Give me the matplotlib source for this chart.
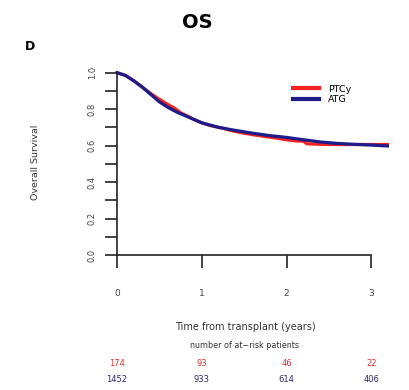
import matplotlib.pyplot as plt
import matplotlib.transforms as mtransforms

# Kaplan-Meier estimates, overall survival by GVHD prophylaxis
ptcy_time = [0, 0.1, 0.2, 0.3, 0.4, 0.48, 0.55, 0.62, 0.68, 0.75,
             0.82, 0.9, 1.0, 1.1, 1.25, 1.35, 1.5, 1.6, 1.75, 1.9, 2.0, 2.1,
             2.2, 2.24, 2.4, 2.6, 2.9, 3.1, 3.19]
ptcy_surv = [1.0, 0.985, 0.955, 0.92, 0.885, 0.86, 0.84, 0.82, 0.805, 0.78,
             0.765, 0.745, 0.725, 0.71, 0.695, 0.682, 0.668, 0.66, 0.65, 0.64, 0.632, 0.626,
             0.624, 0.61, 0.607, 0.606, 0.606, 0.606, 0.606]

atg_time = [0, 0.1, 0.2, 0.3, 0.4, 0.5, 0.6, 0.7, 0.8, 0.9, 1.0, 1.2, 1.4, 1.6,
            1.8, 2.0, 2.2, 2.4, 2.6, 2.8, 3.0, 3.19]
atg_surv = [1.0, 0.985, 0.955, 0.92, 0.88, 0.84, 0.81, 0.785, 0.765, 0.745, 0.725, 0.70,
            0.683, 0.668, 0.655, 0.645, 0.632, 0.62, 0.612, 0.607, 0.603, 0.598]

risk_times = [0, 1, 2, 3]
risk_ptcy = [174, 93, 46, 22]
risk_atg = [1452, 933, 614, 406]

RED = '#f52020'
NAVY = '#1c1c8a'

fig = plt.figure(figsize=(4.1, 3.9), dpi=100)
ax = fig.add_axes([0.2854, 0.3462, 0.6656, 0.4674])

ax.plot(ptcy_time, ptcy_surv, color=RED, lw=2.3, clip_on=False, label='PTCy')
ax.plot(atg_time, atg_surv, color=NAVY, lw=2.3, clip_on=False, label='ATG')

ax.set_xlim(0, 3.22)
ax.set_ylim(0, 1.0)

# R-like axes: only left and bottom, ticks pointing out
for s in ['top', 'right']:
    ax.spines[s].set_visible(False)
ax.spines['bottom'].set_bounds(0, 3)
ax.spines['left'].set_bounds(0, 1)
for s in ['left', 'bottom']:
    ax.spines[s].set_linewidth(1.2)
    ax.spines[s].set_color('#222222')

ax.set_xticks(risk_times)
ax.set_xticklabels([str(t) for t in risk_times])
yt = [i / 10 for i in range(11)]
ax.set_yticks(yt)
ax.set_yticklabels(['%.1f' % v if i % 2 == 0 else '' for i, v in enumerate(yt)],
                   rotation=90, va='center')
ax.tick_params(axis='x', direction='out', length=9.4, width=1.2, pad=15,
               labelsize=6.5, colors='#222222', labelcolor='#444444')
ax.tick_params(axis='y', direction='out', length=8.6, width=1.2, pad=6,
               labelsize=6, colors='#222222', labelcolor='#444444')

leg = ax.legend(loc='upper left', bbox_to_anchor=(288 / 410, 1 - 80 / 390),
                bbox_transform=fig.transFigure, frameon=False, fontsize=6.8,
                handlelength=2.8, handletextpad=0.9, labelspacing=0.15,
                borderpad=0)
for line in leg.get_lines():
    line.set_linewidth(3)

fig.text(197 / 410, 1 - 23 / 390, 'OS', ha='center', va='center',
         fontsize=14, fontweight='bold')
fig.text(30 / 410, 1 - 47 / 390, 'D', ha='center', va='center',
         fontsize=9, fontweight='bold')
fig.text(35 / 410, 1 - 162 / 390, 'Overall Survival', ha='center', va='center',
         rotation=90, fontsize=6.8, color='#333333')

# risk table below the x axis
fig.text(245 / 410, 1 - 327 / 390, 'Time from transplant (years)',
         ha='center', va='center', fontsize=7, color='#333333')
fig.text(245 / 410, 1 - 345 / 390, 'number of at\u2212risk patients',
         ha='center', va='center', fontsize=5.8, color='#333333')
trans = mtransforms.blended_transform_factory(ax.transData, fig.transFigure)
for t, n in zip(risk_times, risk_ptcy):
    ax.text(t, 1 - 364 / 390, str(n), transform=trans, ha='center', va='center',
            fontsize=6, color='#e03030')
for t, n in zip(risk_times, risk_atg):
    ax.text(t, 1 - 380 / 390, str(n), transform=trans, ha='center', va='center',
            fontsize=6, color='#2a2a70')

fig.savefig('out.png', dpi=100)
